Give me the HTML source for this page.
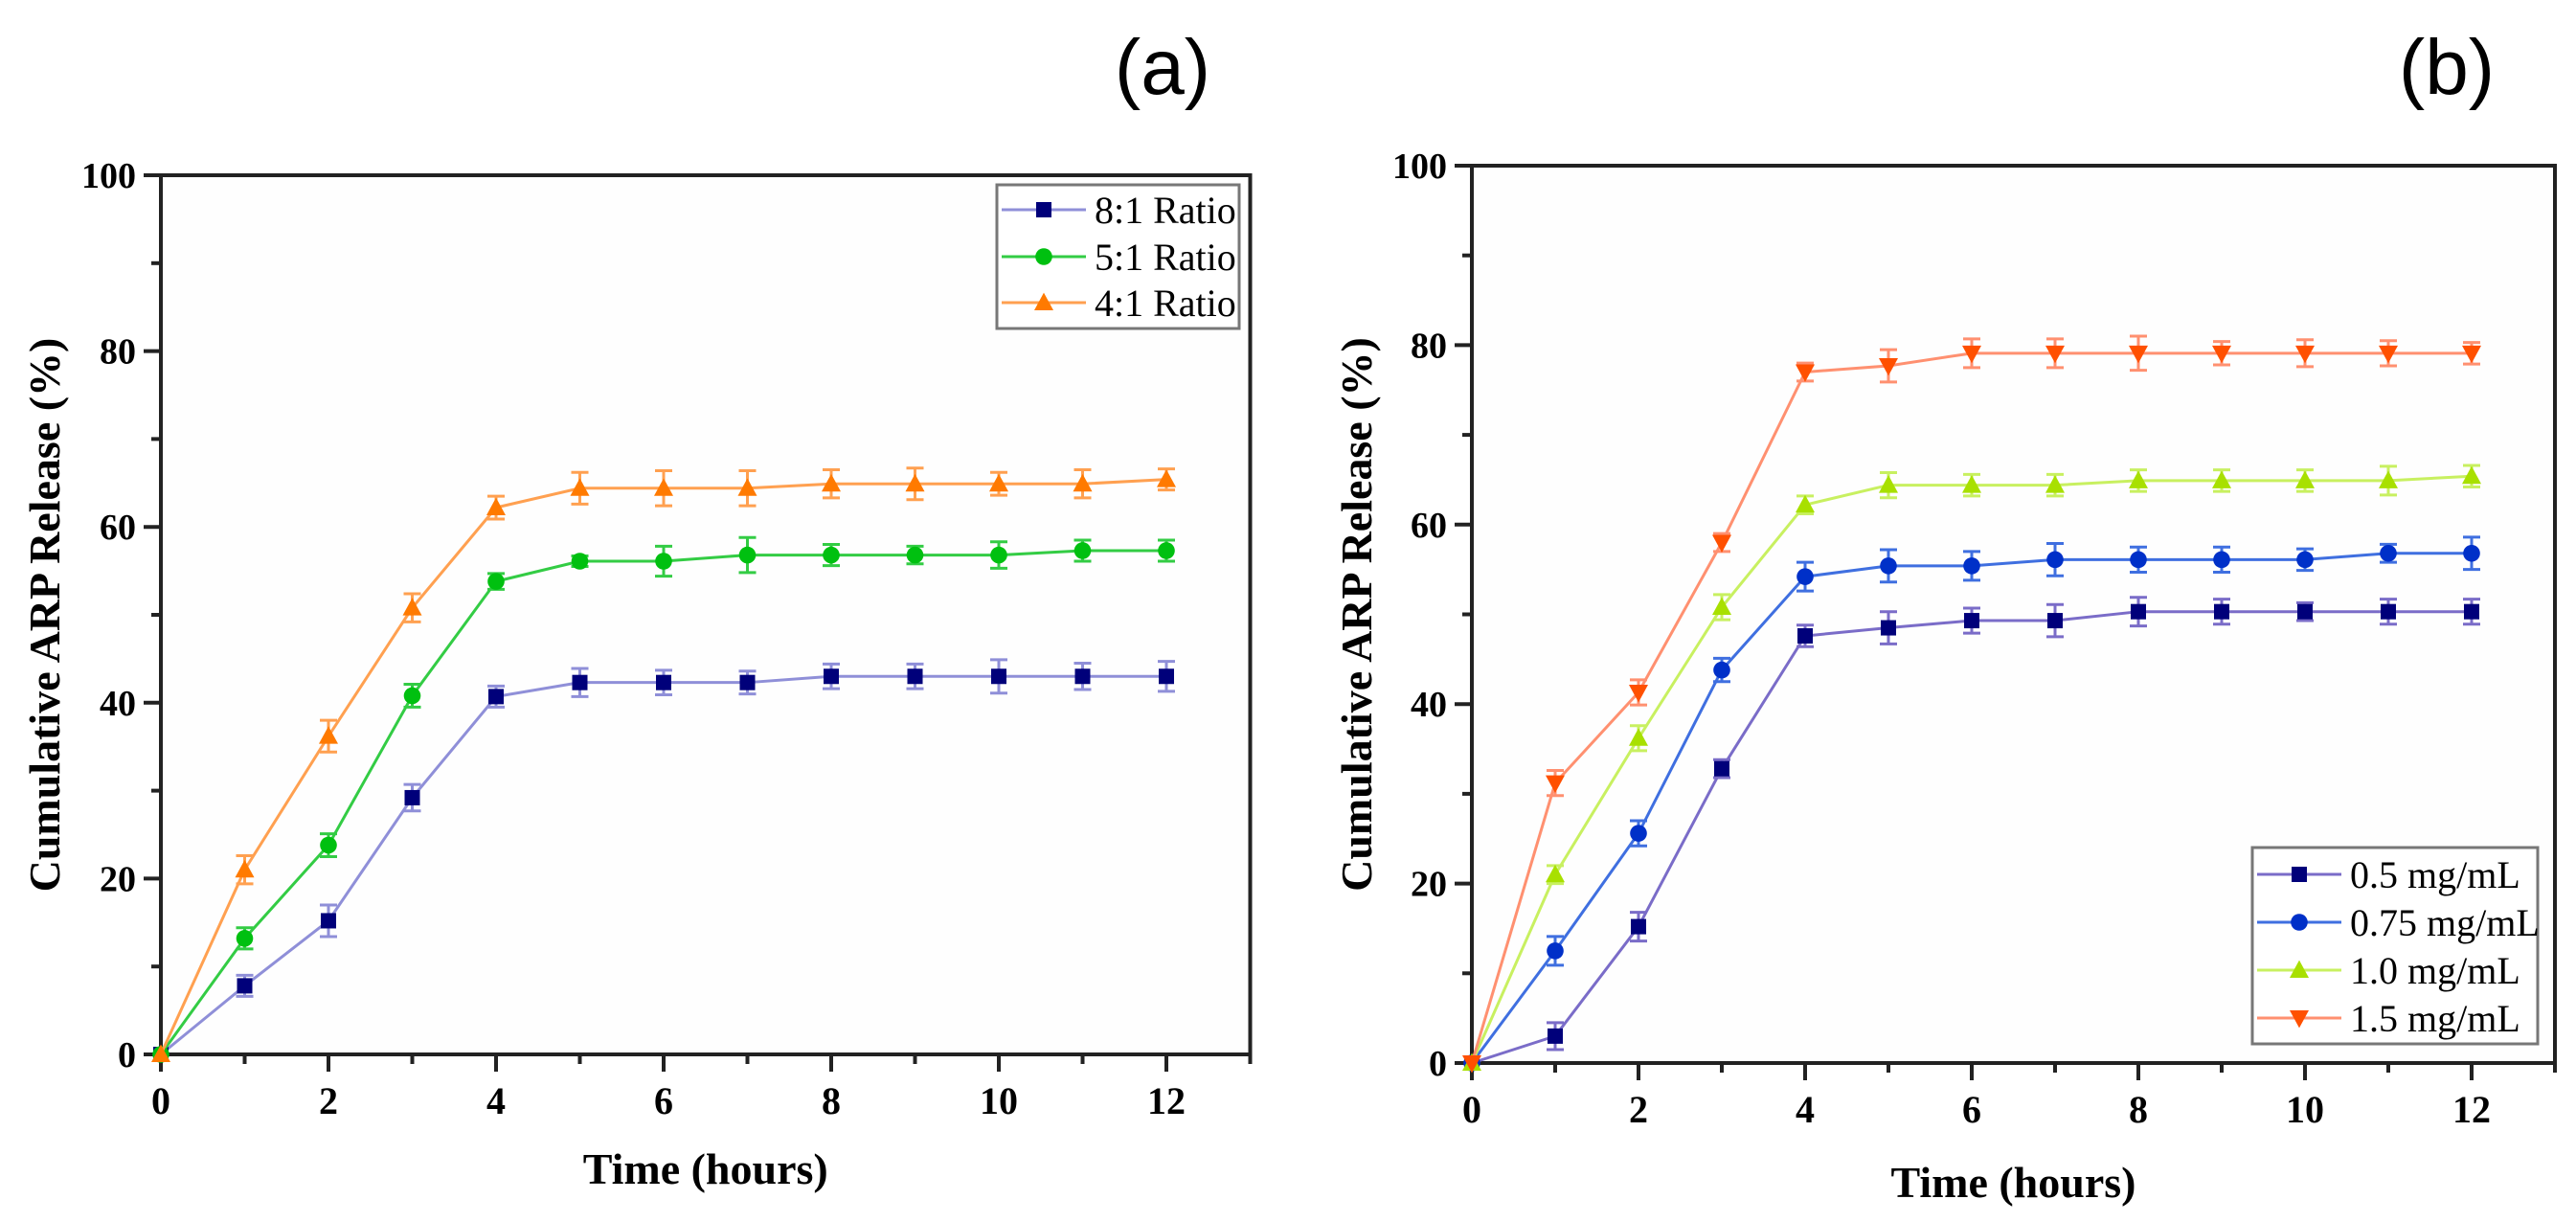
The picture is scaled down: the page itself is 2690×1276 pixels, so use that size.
<!DOCTYPE html>
<html><head><meta charset="utf-8"><style>
html,body{margin:0;padding:0;background:#fff;}
svg{display:block;font-family:"Liberation Serif",serif;}
</style></head><body>
<svg id="fig" width="2690" height="1276" viewBox="0 0 2690 1276" xmlns="http://www.w3.org/2000/svg">
<text x="1214" y="98" font-family="Liberation Sans, sans-serif" font-size="82" text-anchor="middle">(a)</text>
<text x="2555" y="98" font-family="Liberation Sans, sans-serif" font-size="82" text-anchor="middle">(b)</text>
<g id="chartA"></g>
<g id="chartB"></g>
</svg>
<script>
const hours = [0,1,2,3,4,5,6,7,8,9,10,11,12];
const xTickLabels = ["0","2","4","6","8","10","12"];
const yTickLabels = ["0","20","40","60","80","100"];
const seriesA_8to1 = [0,7.8,15.2,29.2,40.7,42.3,42.3,42.3,43,43,43,43,43];
const seriesA_5to1 = [0,13.2,23.8,40.8,53.8,56.1,56.1,56.8,56.8,56.8,56.8,57.3,57.3];
const seriesA_4to1 = [0,21,36.2,50.8,62.2,64.4,64.4,64.4,64.9,64.9,64.9,64.9,65.4];
const errA_8to1 = [0,1.2,1.8,1.5,1.2,1.6,1.4,1.3,1.4,1.4,1.9,1.5,1.7];
const errA_5to1 = [0,1.2,1.3,1.3,0.9,0.6,1.7,2.0,1.2,1.0,1.5,1.2,1.2];
const errA_4to1 = [0,1.6,1.8,1.6,1.3,1.8,2.0,2.0,1.6,1.8,1.3,1.6,1.2];
const labelsA = ["8:1 Ratio","5:1 Ratio","4:1 Ratio"];
const seriesB_05 = [0,3,15.2,32.8,47.6,48.5,49.3,49.3,50.3,50.3,50.3,50.3,50.3];
const seriesB_075 = [0,12.5,25.6,43.8,54.2,55.4,55.4,56.1,56.1,56.1,56.1,56.8,56.8];
const seriesB_10 = [0,21,36.2,50.8,62.2,64.4,64.4,64.4,64.9,64.9,64.9,64.9,65.4];
const seriesB_15 = [0,31.2,41.3,58,77,77.7,79.1,79.1,79.1,79.1,79.1,79.1,79.1];
const errB_05 = [0,1.5,1.6,1.0,1.2,1.8,1.4,1.8,1.6,1.4,1.0,1.4,1.4];
const errB_075 = [0,1.6,1.4,1.3,1.6,1.8,1.6,1.8,1.4,1.4,1.2,1.0,1.8];
const errB_10 = [0,1.0,1.4,1.4,1.0,1.4,1.2,1.2,1.2,1.2,1.2,1.6,1.2];
const errB_15 = [0,1.4,1.4,1.0,1.0,1.8,1.6,1.6,1.9,1.3,1.5,1.4,1.2];
const labelsB = ["0.5 mg/mL","0.75 mg/mL","1.0 mg/mL","1.5 mg/mL"];

const NS="http://www.w3.org/2000/svg";
function mk(parent,tag,attrs,name,text){
  const e=document.createElementNS(NS,tag);
  for(const k in attrs)e.setAttribute(k,attrs[k]);
  
  
  if(text!==undefined)e.textContent=text;
  parent.appendChild(e);return e;
}
function marker(g,shape,cx,cy,s,fill,name){
  if(shape==='sq')return mk(g,'rect',{x:cx-s,y:cy-s,width:2*s,height:2*s,fill:fill},name);
  if(shape==='ci')return mk(g,'circle',{cx:cx,cy:cy,r:s*1.1,fill:fill},name);
  if(shape==='tu')return mk(g,'polygon',{points:`${cx-s*1.25},${cy+s} ${cx+s*1.25},${cy+s} ${cx},${cy-s*1.3}`,fill:fill},name);
  return mk(g,'polygon',{points:`${cx-s*1.25},${cy-s} ${cx+s*1.25},${cy-s} ${cx},${cy+s*1.3}`,fill:fill},name);
}
function chart(g,cfg){
  const X=h=>cfg.x0+h*cfg.px;
  const Y=v=>cfg.y0-(v/100)*(cfg.y0-cfg.y100);
  const right=X(13);
  // frame
  mk(g,'rect',{x:cfg.x0,y:cfg.y100,width:right-cfg.x0,height:cfg.y0-cfg.y100,fill:'#fefefe',stroke:'#222','stroke-width':4},'plot-frame');
  // x ticks
  for(let h=0;h<=13;h++){
    const major=h%2===0;
    mk(g,'line',{x1:X(h),x2:X(h),y1:cfg.y0,y2:cfg.y0+(major?18:10),stroke:'#222','stroke-width':4},'x-tick');
  }
  xTickLabels.forEach((t,i)=>mk(g,'text',{x:X(i*2),y:cfg.y0+62,'font-size':40,'font-weight':'bold','text-anchor':'middle'},'x-tick-label',t));
  for(let v=0;v<=100;v+=10){
    const major=v%20===0;
    mk(g,'line',{x1:cfg.x0-(major?18:10),x2:cfg.x0,y1:Y(v),y2:Y(v),stroke:'#222','stroke-width':4},'y-tick');
  }
  yTickLabels.forEach((t,i)=>mk(g,'text',{x:cfg.x0-26,y:Y(i*20)+13,'font-size':38,'font-weight':'bold','text-anchor':'end'},'y-tick-label',t));
  mk(g,'text',{x:(cfg.x0+right)/2,y:cfg.xtY,'font-size':46,'font-weight':'bold','text-anchor':'middle'},'x-axis-title','Time (hours)');
  mk(g,'text',{x:cfg.ytX,y:(cfg.y0+cfg.y100)/2,'font-size':46,'font-weight':'bold','text-anchor':'middle',transform:`rotate(-90 ${cfg.ytX} ${(cfg.y0+cfg.y100)/2})`},'y-axis-title','Cumulative ARP Release (%)');
  cfg.series.forEach(s=>{
    const sg=mk(g,'g',{},'series-'+s.id);
    mk(sg,'polyline',{points:hours.map((h,i)=>X(h)+','+Y(s.vals[i])).join(' '),fill:'none',stroke:s.line,'stroke-width':3},'series-line');
    hours.forEach((h,i)=>{
      if(i>0){
        const yt=Y(s.vals[i]+s.err[i]),yb=Y(s.vals[i]-s.err[i]);
        mk(sg,'path',{d:`M${X(h)},${yt}V${yb}M${X(h)-9},${yt}H${X(h)+9}M${X(h)-9},${yb}H${X(h)+9}`,stroke:s.line,'stroke-width':3,fill:'none'},'error-bar');
      }
      marker(sg,s.shape,X(h),Y(s.vals[i]),8,s.fill,'data-point');
    });
  });
  const L=cfg.legend;
  const lg=mk(g,'g',{},'legend');
  mk(lg,'rect',{x:L.x,y:L.y,width:L.w,height:L.h,fill:'#fff',stroke:'#777','stroke-width':3},'legend-box');
  cfg.series.forEach((s,i)=>{
    const yy=L.ey[i];
    const eg=mk(lg,'g',{},'legend-entry');
    mk(eg,'line',{x1:L.x+5,x2:L.x+93,y1:yy,y2:yy,stroke:s.line,'stroke-width':3},'legend-line');
    marker(eg,s.shape,L.x+49,yy,8,s.fill,'legend-marker');
    mk(eg,'text',{x:L.x+102,y:yy+14,'font-size':40},'legend-label',s.label);
  });
}
chart(document.getElementById('chartA'),{x0:168,px:87.5,y0:1101,y100:183,xtY:1236,ytX:62,
  legend:{x:1041,y:193,w:253,h:150,ey:[219,268,316]},
  series:[
    {id:'8to1',vals:seriesA_8to1,err:errA_8to1,line:'#8f8fd8',fill:'#00007a',shape:'sq',label:labelsA[0]},
    {id:'5to1',vals:seriesA_5to1,err:errA_5to1,line:'#33cc44',fill:'#00c010',shape:'ci',label:labelsA[1]},
    {id:'4to1',vals:seriesA_4to1,err:errA_4to1,line:'#ffa050',fill:'#ff7a00',shape:'tu',label:labelsA[2]}
  ]});
chart(document.getElementById('chartB'),{x0:1537,px:87,y0:1110,y100:173,xtY:1250,ytX:1432,
  legend:{x:2352,y:885,w:298,h:205,ey:[913,963,1013,1063]},
  series:[
    {id:'0-5',vals:seriesB_05,err:errB_05,line:'#7a6cc8',fill:'#00007a',shape:'sq',label:labelsB[0]},
    {id:'0-75',vals:seriesB_075,err:errB_075,line:'#3f6fe0',fill:'#0030c8',shape:'ci',label:labelsB[1]},
    {id:'1-0',vals:seriesB_10,err:errB_10,line:'#c8f060',fill:'#a8e000',shape:'tu',label:labelsB[2]},
    {id:'1-5',vals:seriesB_15,err:errB_15,line:'#ff9070',fill:'#ff5000',shape:'td',label:labelsB[3]}
  ]});
</script>
</body></html>
